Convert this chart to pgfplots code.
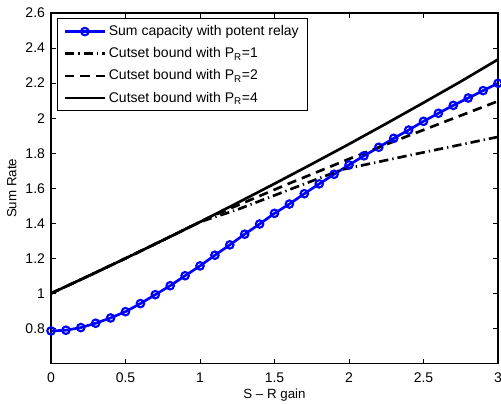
\documentclass[border=0pt]{standalone}
\usepackage{pgfplots}
\pgfplotsset{compat=1.18}
\usepackage{fontspec}
\setmainfont{Liberation Sans}

\begin{document}
\begin{tikzpicture}
\begin{axis}[
  name=ax,
  scale only axis,
  width=335.25pt, height=262.9pt,
  xmin=0, xmax=3, ymin=0.6, ymax=2.6,
  xtick={0,0.5,1,1.5,2,2.5,3},
  ytick={0.8,1,1.2,1.4,1.6,1.8,2,2.2,2.4,2.6},
  tick align=inside,
  major tick length=3.5pt,
  tick style={black, line width=0.6pt},
  axis line style={line width=0.8pt},
  /pgf/number format/assume math mode=true,
  ticklabel style={font=\fontsize{10.5}{12}\selectfont},
  xticklabel style={yshift=-3.5pt},
  yticklabel style={xshift=-1pt},
  label style={font=\fontsize{10.5}{12}\selectfont},
  xlabel={S – R gain},
  ylabel={Sum Rate},
  every axis x label/.style={at={([yshift=-23.5pt]axis description cs:0.5,0)}, anchor=center},
  every axis y label/.style={at={([xshift=-29.5pt]axis description cs:0,0.5)}, anchor=center, rotate=90},
  legend cell align=left,
  legend style={at={(0,1)}, anchor=north west, xshift=4.5pt, yshift=-4pt,
    draw=black, line width=0.8pt, font=\fontsize{10.5}{12}\selectfont,
    inner xsep=4.5pt, inner ysep=3pt, row sep=3.5pt, nodes={inner xsep=2pt}},
  legend image code/.code={\draw[line width=2pt, mark repeat=2,mark phase=2] plot coordinates {(0pt,0pt) (15pt,0pt) (30pt,0pt)};},
]
% sum capacity with potent relay
\addplot[blue, line width=2pt, mark=o, mark size=2.8pt, mark options={solid, line width=1.6pt}] coordinates {
(0,0.786) (0.1,0.790) (0.2,0.805) (0.3,0.830) (0.4,0.860) (0.5,0.896)
(0.6,0.942) (0.7,0.993) (0.8,1.044) (0.9,1.101) (1.0,1.157) (1.1,1.218)
(1.2,1.277) (1.3,1.338) (1.4,1.396) (1.5,1.457) (1.6,1.510) (1.7,1.569)
(1.8,1.625) (1.9,1.680) (2.0,1.733) (2.1,1.785) (2.2,1.834) (2.3,1.885)
(2.4,1.932) (2.5,1.982) (2.6,2.028) (2.7,2.073) (2.8,2.115) (2.9,2.157)
(3.0,2.199)};
\addlegendentry{Sum capacity with potent relay}
% cutset P_R=1
\addplot[black, line width=2pt, dash pattern=on 7pt off 3pt on 1pt off 3pt] coordinates {
(0,1.000) (0.25,1.099) (0.5,1.200) (0.75,1.303) (1.0,1.408)
(1.25,1.478) (1.6,1.592) (1.95,1.706) (2.4,1.787) (3,1.893)};
\addlegendentry{Cutset bound with P\textsubscript{R}=1}
% cutset P_R=2
\addplot[black, line width=2pt, dash pattern=on 7pt off 4.5pt] coordinates {
(0,1.000) (0.25,1.099) (0.5,1.200) (0.75,1.303) (1.0,1.408)
(1.05,1.429) (1.3,1.520) (1.6,1.628) (2.0,1.767) (2.4,1.900) (3,2.097)};
\addlegendentry{Cutset bound with P\textsubscript{R}=2}
% cutset P_R=4
\addplot[black, line width=2pt] coordinates {
(0,1.000) (0.25,1.099) (0.5,1.200) (0.75,1.303) (1.0,1.408) (1.25,1.516)
(1.5,1.626) (1.75,1.738) (2,1.852) (2.25,1.969) (2.5,2.088) (2.75,2.209) (3,2.335)};
\addlegendentry{Cutset bound with P\textsubscript{R}=4}
\end{axis}
\pgfresetboundingbox
\path[use as bounding box] ([xshift=-38.25pt,yshift=-29.6pt]ax.south west) rectangle ([xshift=2.25pt,yshift=9.75pt]ax.north east);
\end{tikzpicture}
\end{document}
